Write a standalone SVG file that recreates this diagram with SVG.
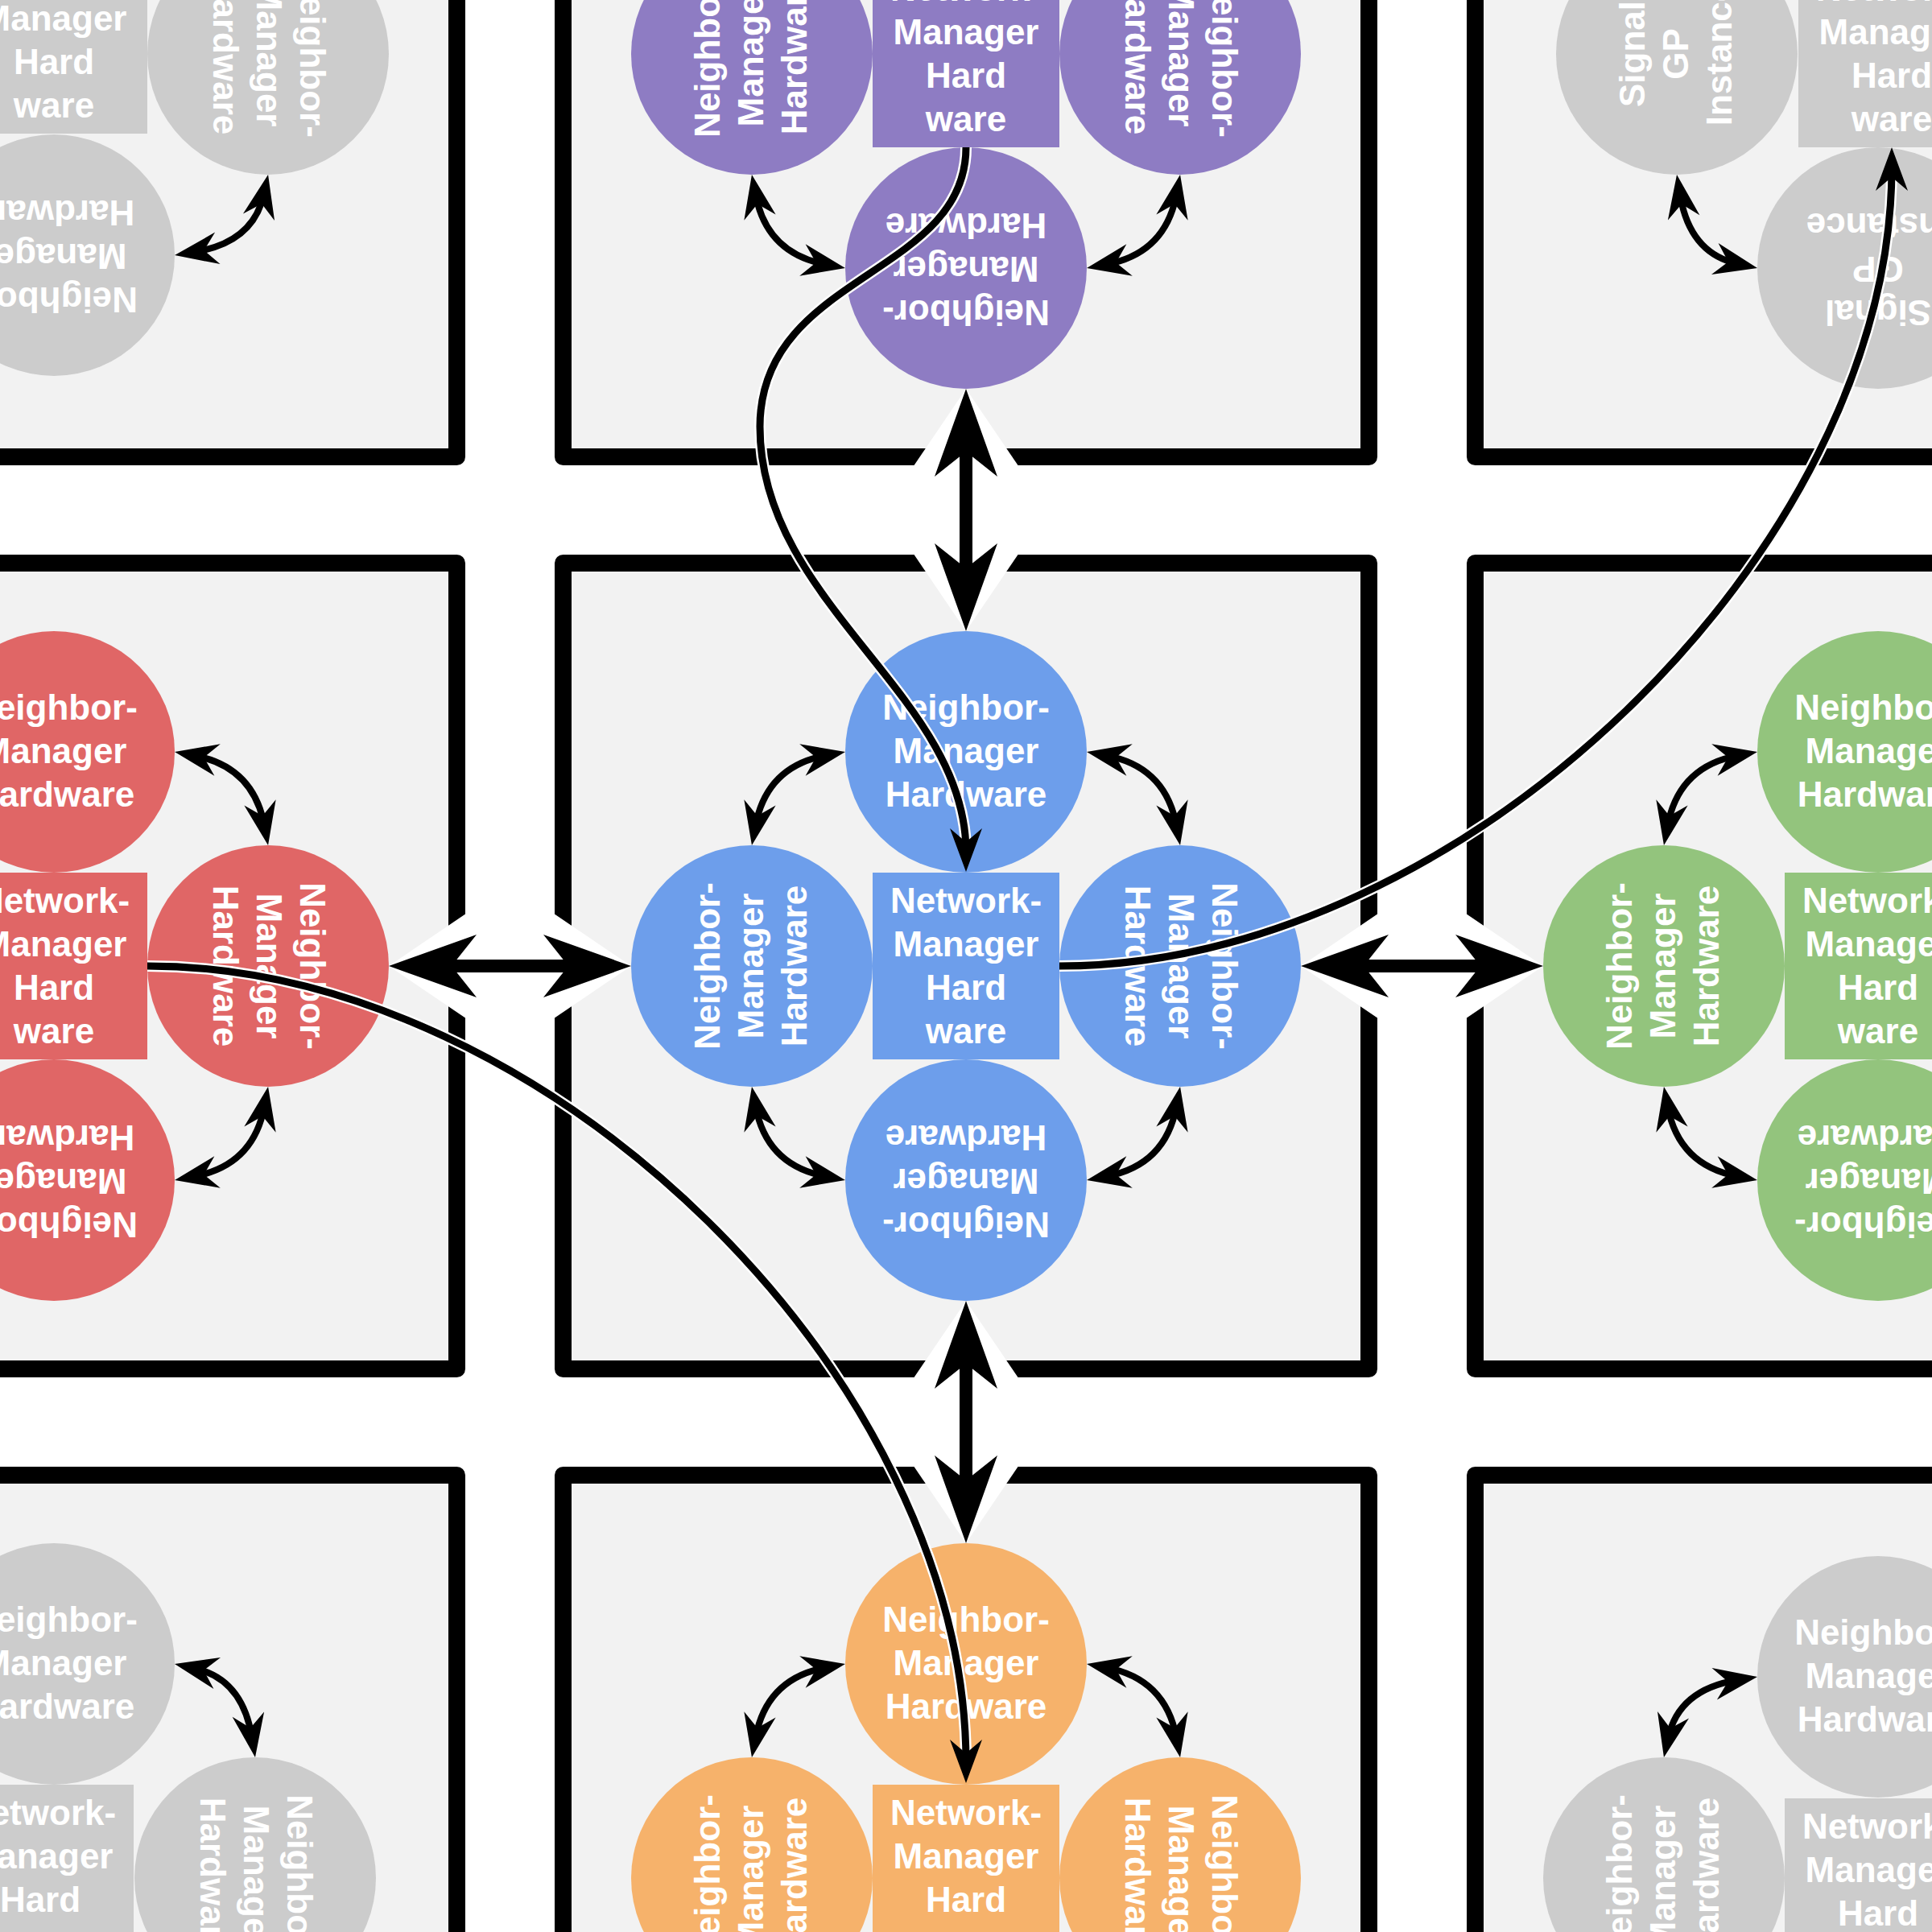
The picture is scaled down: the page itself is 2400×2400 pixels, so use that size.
<svg xmlns="http://www.w3.org/2000/svg" width="2400" height="2400" viewBox="0 0 2400 2400">
<style>
.cell{fill:#f2f2f2;stroke:#000;stroke-width:21;stroke-linejoin:round}
.t{font-family:"Liberation Sans",Arial,Helvetica,sans-serif;font-weight:bold;font-size:44px;fill:#fff;text-anchor:middle}
.blue{fill:#6d9eeb}.red{fill:#e06666}.purple{fill:#8e7cc3}.green{fill:#93c47d}.orange{fill:#f6b26b}.gray{fill:#cccccc}
.sa{fill:none;stroke:#000;stroke-width:8;marker-start:url(#ah);marker-end:url(#ah)}
.shaft{stroke:#000;stroke-width:16}
.lhalo{fill:none;stroke:#fff;stroke-width:14}
.lline{fill:none;stroke:#000;stroke-width:9;marker-end:url(#ah)}
</style>
<defs>
<marker id="ah" markerUnits="userSpaceOnUse" orient="auto-start-reverse" refX="-25" refY="0" markerWidth="1" markerHeight="1" overflow="visible">
<path d="M0,0 L-54,-20 L-37,0 L-54,20 Z" fill="#000"/>
</marker>
<polygon id="bh" points="0,0 -109,-39 -78,0 -109,39" fill="#000"/>
<polygon id="halo" points="0,0 -140,-95 -140,95" fill="#fff"/>
</defs>
<rect width="2400" height="2400" fill="#fff"/>
<g id="cells">
<rect class="cell" x="-433.5" y="-433.5" width="1001" height="1001"/>
<rect class="cell" x="699.5" y="-433.5" width="1001" height="1001"/>
<rect class="cell" x="1832.5" y="-433.5" width="1001" height="1001"/>
<rect class="cell" x="-433.5" y="699.5" width="1001" height="1001"/>
<rect class="cell" x="699.5" y="699.5" width="1001" height="1001"/>
<rect class="cell" x="1832.5" y="699.5" width="1001" height="1001"/>
<rect class="cell" x="-433.5" y="1832.5" width="1001" height="1001"/>
<rect class="cell" x="699.5" y="1832.5" width="1001" height="1001"/>
<rect class="cell" x="1832.5" y="1832.5" width="1001" height="1001"/>
</g>
<g id="big-connectors">
<use href="#halo" transform="translate(483,1200) rotate(180)"/>
<use href="#halo" transform="translate(784,1200)"/>
<use href="#halo" transform="translate(1616,1200) rotate(180)"/>
<use href="#halo" transform="translate(1917,1200)"/>
<use href="#halo" transform="translate(1200,483) rotate(-90)"/>
<use href="#halo" transform="translate(1200,784) rotate(90)"/>
<use href="#halo" transform="translate(1200,1616) rotate(-90)"/>
<use href="#halo" transform="translate(1200,1917) rotate(90)"/>
<line class="shaft" x1="540" y1="1200" x2="727" y2="1200"/>
<line class="shaft" x1="1673" y1="1200" x2="1860" y2="1200"/>
<line class="shaft" x1="1200" y1="540" x2="1200" y2="727"/>
<line class="shaft" x1="1200" y1="1673" x2="1200" y2="1860"/>
<use href="#bh" transform="translate(483,1200) rotate(180)"/>
<use href="#bh" transform="translate(784,1200)"/>
<use href="#bh" transform="translate(1616,1200) rotate(180)"/>
<use href="#bh" transform="translate(1917,1200)"/>
<use href="#bh" transform="translate(1200,483) rotate(-90)"/>
<use href="#bh" transform="translate(1200,784) rotate(90)"/>
<use href="#bh" transform="translate(1200,1616) rotate(-90)"/>
<use href="#bh" transform="translate(1200,1917) rotate(90)"/>
</g>
<!-- center (blue) -->
<g id="blue-nmh" transform="translate(1200,1200)"><rect class="blue" x="-116" y="-116" width="232" height="232"/><text class="t"><tspan x="0" y="-66">Network-</tspan><tspan x="0" y="-12">Manager</tspan><tspan x="0" y="42">Hard</tspan><tspan x="0" y="96">ware</tspan></text></g>
<g id="blue-top" transform="translate(1200,934)"><circle class="blue" r="150"/><text class="t"><tspan x="0" y="-40">Neighbor-</tspan><tspan x="0" y="14">Manager</tspan><tspan x="0" y="68">Hardware</tspan></text></g>
<g id="blue-left" transform="translate(934,1200) rotate(-90)"><circle class="blue" r="150"/><text class="t"><tspan x="0" y="-40">Neighbor-</tspan><tspan x="0" y="14">Manager</tspan><tspan x="0" y="68">Hardware</tspan></text></g>
<g id="blue-right" transform="translate(1466,1200) rotate(90)"><circle class="blue" r="150"/><text class="t"><tspan x="0" y="-40">Neighbor-</tspan><tspan x="0" y="14">Manager</tspan><tspan x="0" y="68">Hardware</tspan></text></g>
<g id="blue-bottom" transform="translate(1200,1466) rotate(180)"><circle class="blue" r="150"/><text class="t"><tspan x="0" y="-40">Neighbor-</tspan><tspan x="0" y="14">Manager</tspan><tspan x="0" y="68">Hardware</tspan></text></g>
<!-- red (left) -->
<g id="red-nmh" transform="translate(67,1200)"><rect class="red" x="-116" y="-116" width="232" height="232"/><text class="t"><tspan x="0" y="-66">Network-</tspan><tspan x="0" y="-12">Manager</tspan><tspan x="0" y="42">Hard</tspan><tspan x="0" y="96">ware</tspan></text></g>
<g id="red-top" transform="translate(67,934)"><circle class="red" r="150"/><text class="t"><tspan x="0" y="-40">Neighbor-</tspan><tspan x="0" y="14">Manager</tspan><tspan x="0" y="68">Hardware</tspan></text></g>
<g id="red-right" transform="translate(333,1200) rotate(90)"><circle class="red" r="150"/><text class="t"><tspan x="0" y="-40">Neighbor-</tspan><tspan x="0" y="14">Manager</tspan><tspan x="0" y="68">Hardware</tspan></text></g>
<g id="red-bottom" transform="translate(67,1466) rotate(180)"><circle class="red" r="150"/><text class="t"><tspan x="0" y="-40">Neighbor-</tspan><tspan x="0" y="14">Manager</tspan><tspan x="0" y="68">Hardware</tspan></text></g>
<!-- purple (top) -->
<g id="purple-nmh" transform="translate(1200,67)"><rect class="purple" x="-116" y="-116" width="232" height="232"/><text class="t"><tspan x="0" y="-66">Network-</tspan><tspan x="0" y="-12">Manager</tspan><tspan x="0" y="42">Hard</tspan><tspan x="0" y="96">ware</tspan></text></g>
<g id="purple-left" transform="translate(934,67) rotate(-90)"><circle class="purple" r="150"/><text class="t"><tspan x="0" y="-40">Neighbor-</tspan><tspan x="0" y="14">Manager</tspan><tspan x="0" y="68">Hardware</tspan></text></g>
<g id="purple-right" transform="translate(1466,67) rotate(90)"><circle class="purple" r="150"/><text class="t"><tspan x="0" y="-40">Neighbor-</tspan><tspan x="0" y="14">Manager</tspan><tspan x="0" y="68">Hardware</tspan></text></g>
<g id="purple-bottom" transform="translate(1200,333) rotate(180)"><circle class="purple" r="150"/><text class="t"><tspan x="0" y="-40">Neighbor-</tspan><tspan x="0" y="14">Manager</tspan><tspan x="0" y="68">Hardware</tspan></text></g>
<!-- green (right) -->
<g id="green-nmh" transform="translate(2333,1200)"><rect class="green" x="-116" y="-116" width="232" height="232"/><text class="t"><tspan x="0" y="-66">Network-</tspan><tspan x="0" y="-12">Manager</tspan><tspan x="0" y="42">Hard</tspan><tspan x="0" y="96">ware</tspan></text></g>
<g id="green-top" transform="translate(2333,934)"><circle class="green" r="150"/><text class="t"><tspan x="0" y="-40">Neighbor-</tspan><tspan x="0" y="14">Manager</tspan><tspan x="0" y="68">Hardware</tspan></text></g>
<g id="green-left" transform="translate(2067,1200) rotate(-90)"><circle class="green" r="150"/><text class="t"><tspan x="0" y="-40">Neighbor-</tspan><tspan x="0" y="14">Manager</tspan><tspan x="0" y="68">Hardware</tspan></text></g>
<g id="green-bottom" transform="translate(2333,1466) rotate(180)"><circle class="green" r="150"/><text class="t"><tspan x="0" y="-40">Neighbor-</tspan><tspan x="0" y="14">Manager</tspan><tspan x="0" y="68">Hardware</tspan></text></g>
<!-- orange (bottom) -->
<g id="orange-nmh" transform="translate(1200,2333)"><rect class="orange" x="-116" y="-116" width="232" height="232"/><text class="t"><tspan x="0" y="-66">Network-</tspan><tspan x="0" y="-12">Manager</tspan><tspan x="0" y="42">Hard</tspan></text></g>
<g id="orange-top" transform="translate(1200,2067)"><circle class="orange" r="150"/><text class="t"><tspan x="0" y="-40">Neighbor-</tspan><tspan x="0" y="14">Manager</tspan><tspan x="0" y="68">Hardware</tspan></text></g>
<g id="orange-left" transform="translate(934,2333) rotate(-90)"><circle class="orange" r="150"/><text class="t"><tspan x="0" y="-40">Neighbor-</tspan><tspan x="0" y="14">Manager</tspan><tspan x="0" y="68">Hardware</tspan></text></g>
<g id="orange-right" transform="translate(1466,2333) rotate(90)"><circle class="orange" r="150"/><text class="t"><tspan x="0" y="-40">Neighbor-</tspan><tspan x="0" y="14">Manager</tspan><tspan x="0" y="68">Hardware</tspan></text></g>
<!-- gray top-left -->
<g id="gray-tl-nmh" transform="translate(67,50)"><rect class="gray" x="-116" y="-116" width="232" height="232"/><text class="t"><tspan x="0" y="-12">Manager</tspan><tspan x="0" y="42">Hard</tspan><tspan x="0" y="96">ware</tspan></text></g>
<g id="gray-tl-right" transform="translate(333,67) rotate(90)"><circle class="gray" r="150"/><text class="t"><tspan x="0" y="-40">Neighbor-</tspan><tspan x="0" y="14">Manager</tspan><tspan x="0" y="68">Hardware</tspan></text></g>
<g id="gray-tl-bottom" transform="translate(67,317) rotate(180)"><circle class="gray" r="150"/><text class="t"><tspan x="0" y="-40">Neighbor-</tspan><tspan x="0" y="14">Manager</tspan><tspan x="0" y="68">Hardware</tspan></text></g>
<!-- gray top-right -->
<g id="gray-tr-nmh" transform="translate(2350,67)"><rect class="gray" x="-116" y="-116" width="232" height="232"/><text class="t"><tspan x="0" y="-66">Network-</tspan><tspan x="0" y="-12">Manager</tspan><tspan x="0" y="42">Hard</tspan><tspan x="0" y="96">ware</tspan></text></g>
<g id="gray-tr-left" transform="translate(2083,67) rotate(-90)"><circle class="gray" r="150"/><text class="t"><tspan x="0" y="-40">Signal</tspan><tspan x="0" y="14">GP</tspan><tspan x="0" y="68">Instance</tspan></text></g>
<g id="gray-tr-bottom" transform="translate(2333,333) rotate(180)"><circle class="gray" r="150"/><text class="t"><tspan x="0" y="-40">Signal</tspan><tspan x="0" y="14">GP</tspan><tspan x="0" y="68">Instance</tspan></text></g>
<!-- gray bottom-right -->
<g id="gray-br-nmh" transform="translate(2333,2350)"><rect class="gray" x="-116" y="-116" width="232" height="232"/><text class="t"><tspan x="0" y="-66">Network-</tspan><tspan x="0" y="-12">Manager</tspan><tspan x="0" y="42">Hard</tspan></text></g>
<g id="gray-br-top" transform="translate(2333,2083)"><circle class="gray" r="150"/><text class="t"><tspan x="0" y="-40">Neighbor-</tspan><tspan x="0" y="14">Manager</tspan><tspan x="0" y="68">Hardware</tspan></text></g>
<g id="gray-br-left" transform="translate(2067,2333) rotate(-90)"><circle class="gray" r="150"/><text class="t"><tspan x="0" y="-40">Neighbor-</tspan><tspan x="0" y="14">Manager</tspan><tspan x="0" y="68">Hardware</tspan></text></g>
<!-- gray bottom-left -->
<g id="gray-bl-nmh" transform="translate(50,2333)"><rect class="gray" x="-116" y="-116" width="232" height="232"/><text class="t"><tspan x="0" y="-66">Network-</tspan><tspan x="0" y="-12">Manager</tspan><tspan x="0" y="42">Hard</tspan></text></g>
<g id="gray-bl-top" transform="translate(67,2067)"><circle class="gray" r="150"/><text class="t"><tspan x="0" y="-40">Neighbor-</tspan><tspan x="0" y="14">Manager</tspan><tspan x="0" y="68">Hardware</tspan></text></g>
<g id="gray-bl-right" transform="translate(317,2333) rotate(90)"><circle class="gray" r="150"/><text class="t"><tspan x="0" y="-40">Neighbor-</tspan><tspan x="0" y="14">Manager</tspan><tspan x="0" y="68">Hardware</tspan></text></g>
<g id="connectors">
<path class="sa" d="M1025.4,938.6 Q952.4,952.4 938.6,1025.4"/>
<path class="sa" d="M1374.6,938.6 Q1447.6,952.4 1461.4,1025.4"/>
<path class="sa" d="M1025.4,1461.4 Q952.4,1447.6 938.6,1374.6"/>
<path class="sa" d="M1374.6,1461.4 Q1447.6,1447.6 1461.4,1374.6"/>
<path class="sa" d="M241.6,938.6 Q314.6,952.4 328.4,1025.4"/>
<path class="sa" d="M241.6,1461.4 Q314.6,1447.6 328.4,1374.6"/>
<path class="sa" d="M938.6,241.6 Q952.4,314.6 1025.4,328.4"/>
<path class="sa" d="M1461.4,241.6 Q1447.6,314.6 1374.6,328.4"/>
<path class="sa" d="M2158.4,938.6 Q2085.4,952.4 2071.6,1025.4"/>
<path class="sa" d="M2158.4,1461.4 Q2085.4,1447.6 2071.6,1374.6"/>
<path class="sa" d="M1025.4,2071.6 Q952.4,2085.4 938.6,2158.4"/>
<path class="sa" d="M1374.6,2071.6 Q1447.6,2085.4 1461.4,2158.4"/>
<path class="sa" d="M327.7,241.4 Q314.6,301.2 241.7,313"/>
<path class="sa" d="M2087,241.7 Q2098.8,314.6 2158.6,327.7"/>
<path class="sa" d="M2158.3,2087 Q2085.4,2098.8 2072.3,2158.6"/>
<path class="sa" d="M241.4,2072.3 Q301.2,2085.4 313,2158.3"/>
<path class="lhalo" d="M1200,183 C1200,343 944,340 944,530 C944,750 1200,863 1200,1058"/>
<path class="lline" d="M1200,183 C1200,343 944,340 944,530 C944,750 1200,863 1200,1058"/>
<path class="lhalo" d="M1316,1200 C1816,1200 2350,683 2350,208"/>
<path class="lline" d="M1316,1200 C1816,1200 2350,683 2350,208"/>
<path class="lhalo" d="M183,1200 C683,1200 1200,1715 1200,2190"/>
<path class="lline" d="M183,1200 C683,1200 1200,1715 1200,2190"/>
</g>
</svg>
